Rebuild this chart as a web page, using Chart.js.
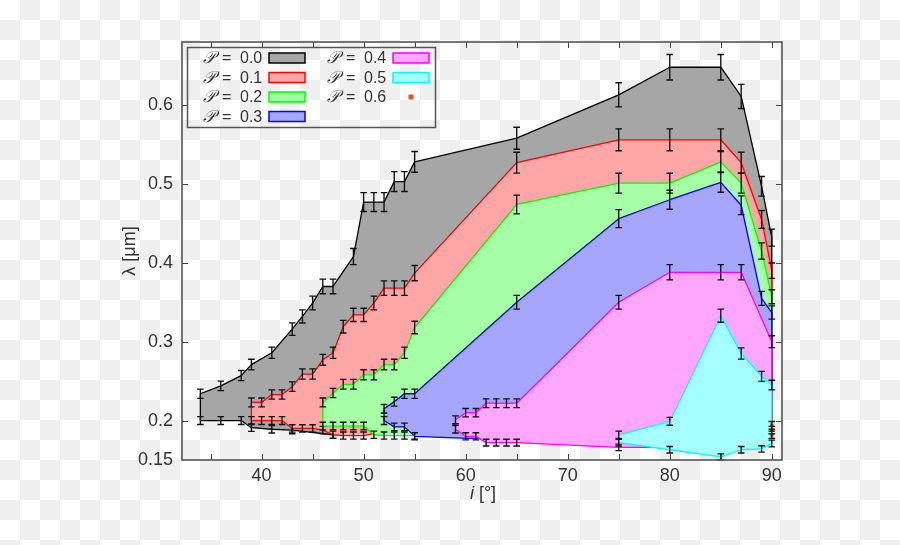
<!DOCTYPE html>
<html>
<head>
<meta charset="utf-8">
<script src="https://cdn.jsdelivr.net/npm/chart.js@4.4.1/dist/chart.umd.min.js"></script>
<style>
html,body{margin:0;padding:0;}
body{width:900px;height:545px;background-color:#fff;
  background-image:conic-gradient(#efefef 0 25%,#fff 0 50%,#efefef 0 75%,#fff 0);
  background-size:40px 40px;}
</style>
</head>
<body>
<canvas id="chart" width="900" height="545"></canvas>
<script>
// axis ticks
const X_TICKS = [40, 50, 60, 70, 80, 90];
const X_MINOR = [35, 45, 55, 65, 75, 85];
const Y_TICKS = [0.15, 0.2, 0.3, 0.4, 0.5, 0.6];
const REL_ERR = 0.025; // error bar half-height, relative to lambda

const LEGEND_LABELS = ["0.0", "0.1", "0.2", "0.3", "0.4", "0.5", "0.6"];

// each region: upper edge (left->right), lower edge (left->right),
// hidden = path under the next region back from the right edge (no error bars)
const p00Upper = [[34,0.234],[36,0.244],[38,0.257],[39,0.271],[41,0.286],[43,0.316],[44,0.332],[45,0.349],[46,0.37],[47,0.37],[49,0.408],[50,0.477],[51,0.477],[52,0.477],[53,0.503],[54,0.503],[55,0.528],[65,0.558],[75,0.613],[80,0.648],[85,0.648],[87,0.611],[89,0.497],[90,0.432]];
const p00Lower = [[34,0.2],[36,0.2],[38,0.2],[39,0.191],[41,0.189],[43,0.188],[47,0.182]];
const p00Hidden = [[90,0.2],[56,0.2],[49,0.19]];

const p01Upper = [[39,0.223],[40,0.223],[41,0.233],[42,0.233],[43,0.243],[44,0.259],[45,0.259],[46,0.277],[47,0.286],[48,0.319],[49,0.334],[50,0.334],[51,0.349],[52,0.368],[53,0.368],[54,0.368],[55,0.387],[65,0.527],[75,0.556],[80,0.556],[85,0.556],[87,0.527],[89,0.455],[90,0.39]];
const p01Lower = [[39,0.2],[40,0.2],[41,0.2],[42,0.2],[43,0.19],[44,0.19],[45,0.19],[46,0.188],[47,0.182],[48,0.181],[49,0.181],[50,0.181]];
const p01Hidden = [[90,0.2],[56,0.195],[52,0.186]];

const p02Upper = [[46,0.223],[47,0.235],[48,0.246],[49,0.246],[50,0.258],[51,0.258],[52,0.271],[53,0.271],[54,0.286],[55,0.318],[65,0.474],[75,0.501],[80,0.501],[85,0.528],[87,0.501],[89,0.415],[90,0.357]];
const p02Lower = [[46,0.193],[47,0.193],[48,0.193],[49,0.193],[50,0.193],[51,0.182],[52,0.181],[53,0.181],[54,0.181],[55,0.181]];
const p02Hidden = [[90,0.2],[58,0.19]];

const p03Upper = [[52,0.215],[53,0.224],[54,0.234],[55,0.234],[65,0.35],[75,0.456],[80,0.48],[85,0.502],[87,0.473],[89,0.355],[90,0.337]];
const p03Lower = [[52,0.2],[53,0.192],[54,0.192],[55,0.18]];
const p03Hidden = [[90,0.2],[68,0.185],[61,0.177]];

const p04Upper = [[59,0.201],[60,0.21],[61,0.21],[62,0.222],[63,0.222],[64,0.222],[65,0.222],[75,0.35],[80,0.388],[85,0.388],[87,0.388],[90,0.3]];
const p04Lower = [[59,0.189],[60,0.18],[61,0.18],[62,0.172],[63,0.172],[64,0.172],[65,0.172],[75,0.166]];
const p04Hidden = [[90,0.2],[80,0.166]];

const p05Upper = [[75,0.182],[80,0.199],[85,0.333],[87,0.285],[89,0.256],[90,0.245]];
const p05Lower = [[75,0.172],[80,0.163],[85,0.154],[87,0.163],[89,0.164],[90,0.171]];
const p05Hidden = [];

const p06Pts = [[90,0.194],[90,0.188],[90,0.182]];

function polygon(upper, hidden, lower){
  const pts = upper.concat(hidden, lower.slice().reverse(), [upper[0]]);
  return pts.map(([x, y]) => ({x, y}));
}

function region(label, upper, hidden, lower, fillC, lineC, order){
  return {
    label, order,
    data: polygon(upper, hidden, lower),
    errPts: upper.concat(lower),
    showLine: true, fill: "shape", clip: false,
    backgroundColor: fillC, borderColor: lineC, borderWidth: 1.3,
    borderJoinStyle: "round", pointRadius: 0, tension: 0
  };
}

const datasets = [
  region("P = 0.0", p00Upper, p00Hidden, p00Lower, "#a6a6a6", "#000000", 10),
  region("P = 0.1", p01Upper, p01Hidden, p01Lower, "#ffa6a6", "#ff0000", 9),
  region("P = 0.2", p02Upper, p02Hidden, p02Lower, "#a6ffa6", "#00ff00", 8),
  region("P = 0.3", p03Upper, p03Hidden, p03Lower, "#a6a6ff", "#0000ff", 7),
  region("P = 0.4", p04Upper, p04Hidden, p04Lower, "#ffa6ff", "#ff00ff", 6),
  region("P = 0.5", p05Upper, p05Hidden, p05Lower, "#a6ffff", "#00ffff", 5),
  { label:"P = 0.6", order:0, data:p06Pts.map(([x, y]) => ({x, y})), errPts:p06Pts,
    showLine:false, pointStyle:"rect", pointRadius:2.6, backgroundColor:"#f0501a", borderWidth:0, clip:false }
];

const errorBars = {
  id: "errorBars",
  afterDatasetDraw(chart, args){
    const ds = chart.data.datasets[args.index];
    if(!ds.errPts) return;
    const {ctx, scales:{x, y}} = chart;
    ctx.save();
    ctx.strokeStyle = "#111";
    ctx.lineWidth = 1.35;
    ctx.beginPath();
    ds.errPts.forEach(([vx, vy]) => {
      const cx = x.getPixelForValue(vx);
      const y1 = y.getPixelForValue(vy * (1 - REL_ERR));
      const y2 = y.getPixelForValue(vy * (1 + REL_ERR));
      ctx.moveTo(cx, y1); ctx.lineTo(cx, y2);
      ctx.moveTo(cx - 3.3, y1); ctx.lineTo(cx + 3.3, y1);
      ctx.moveTo(cx - 3.3, y2); ctx.lineTo(cx + 3.3, y2);
    });
    ctx.stroke();
    ctx.restore();
  }
};

const frame = {
  id: "frame",
  afterDraw(chart){
    const {ctx, chartArea:a, scales:{x, y}} = chart;
    ctx.save();
    // inward ticks on all four sides
    ctx.strokeStyle = "#444";
    ctx.lineWidth = 1;
    ctx.beginPath();
    X_TICKS.concat(X_MINOR).forEach(v => {
      const px = Math.round(x.getPixelForValue(v)) + 0.5;
      ctx.moveTo(px, a.bottom); ctx.lineTo(px, a.bottom - 6);
      ctx.moveTo(px, a.top); ctx.lineTo(px, a.top + 6);
    });
    Y_TICKS.forEach(v => {
      if(v <= y.min) return;
      const py = Math.round(y.getPixelForValue(v)) + 0.5;
      ctx.moveTo(a.left, py); ctx.lineTo(a.left + 6, py);
      ctx.moveTo(a.right, py); ctx.lineTo(a.right - 6, py);
    });
    ctx.stroke();
    ctx.strokeStyle = "#555";
    ctx.lineWidth = 1.6;
    ctx.strokeRect(a.left, a.top, a.right - a.left, a.bottom - a.top);

    // axis titles
    ctx.fillStyle = "#333";
    ctx.textBaseline = "middle";
    ctx.font = "italic 18px 'Liberation Sans', Arial, sans-serif";
    const iw = ctx.measureText("i").width;
    ctx.font = "18px 'Liberation Sans', Arial, sans-serif";
    const rest = " [°]";
    const rw = ctx.measureText(rest).width;
    const tx = 483 - (iw + rw) / 2;
    ctx.font = "italic 18px 'Liberation Sans', Arial, sans-serif";
    ctx.textAlign = "left";
    ctx.fillText("i", tx, 494);
    ctx.font = "18px 'Liberation Sans', Arial, sans-serif";
    ctx.fillText(rest, tx + iw, 494);
    ctx.save();
    ctx.translate(130, 251);
    ctx.rotate(-Math.PI / 2);
    ctx.textAlign = "center";
    ctx.fillText("λ [μm]", 0, 0);
    ctx.restore();

    // legend
    ctx.strokeStyle = "#555";
    ctx.lineWidth = 1.5;
    ctx.strokeRect(187.5, 47.5, 248, 80);
    ctx.textAlign = "left";
    const rows = [58, 77.5, 97, 116.5];
    chart.data.datasets.forEach((ds, i) => {
      const col = i < 4 ? 0 : 1;
      const ry = rows[col ? i - 4 : i];
      const bx = col ? 327 : 203;
      ctx.fillStyle = "#333";
      ctx.font = "italic 17px 'DejaVu Serif', serif";
      ctx.fillText("𝒫", bx, ry + 1);
      ctx.font = "16px 'Liberation Sans', Arial, sans-serif";
      ctx.fillText("=", bx + 19, ry + 1);
      ctx.fillText(LEGEND_LABELS[i], bx + 37, ry + 1);
      const sx = col ? 393 : 269;
      if(ds.showLine){
        ctx.fillStyle = ds.backgroundColor;
        ctx.fillRect(sx, ry - 5, 36, 10);
        ctx.strokeStyle = ds.borderColor;
        ctx.lineWidth = 1.5;
        ctx.strokeRect(sx, ry - 5, 36, 10);
      } else {
        ctx.fillStyle = ds.backgroundColor;
        ctx.fillRect(sx + 15.5, ry - 2.5, 5, 5);
      }
    });
    ctx.restore();
  }
};

new Chart(document.getElementById("chart").getContext("2d"), {
  type: "scatter",
  data: { datasets },
  options: {
    responsive: false,
    animation: false,
    events: [],
    layout: { padding: { left: 0, right: 118, top: 42, bottom: 0 } },
    plugins: { legend: { display: false }, tooltip: { enabled: false } },
    scales: {
      x: {
        type: "linear", min: 32.2, max: 91,
        afterBuildTicks: s => { s.ticks = X_TICKS.map(v => ({value: v})); },
        afterFit: s => { s.height = 85; },
        grid: { display: false, drawTicks: false },
        border: { display: false },
        ticks: { color: "#333", padding: 5, font: { family: "'Liberation Sans', Arial, sans-serif", size: 18 }, callback: v => String(v) }
      },
      y: {
        type: "linear", min: 0.15, max: 0.68,
        afterBuildTicks: s => { s.ticks = Y_TICKS.map(v => ({value: v})); },
        afterFit: s => { s.width = 182; },
        grid: { display: false, drawTicks: false },
        border: { display: false },
        ticks: { color: "#333", padding: 9, font: { family: "'Liberation Sans', Arial, sans-serif", size: 18 }, callback: v => String(v) }
      }
    }
  },
  plugins: [errorBars, frame]
});
</script>
</body>
</html>
